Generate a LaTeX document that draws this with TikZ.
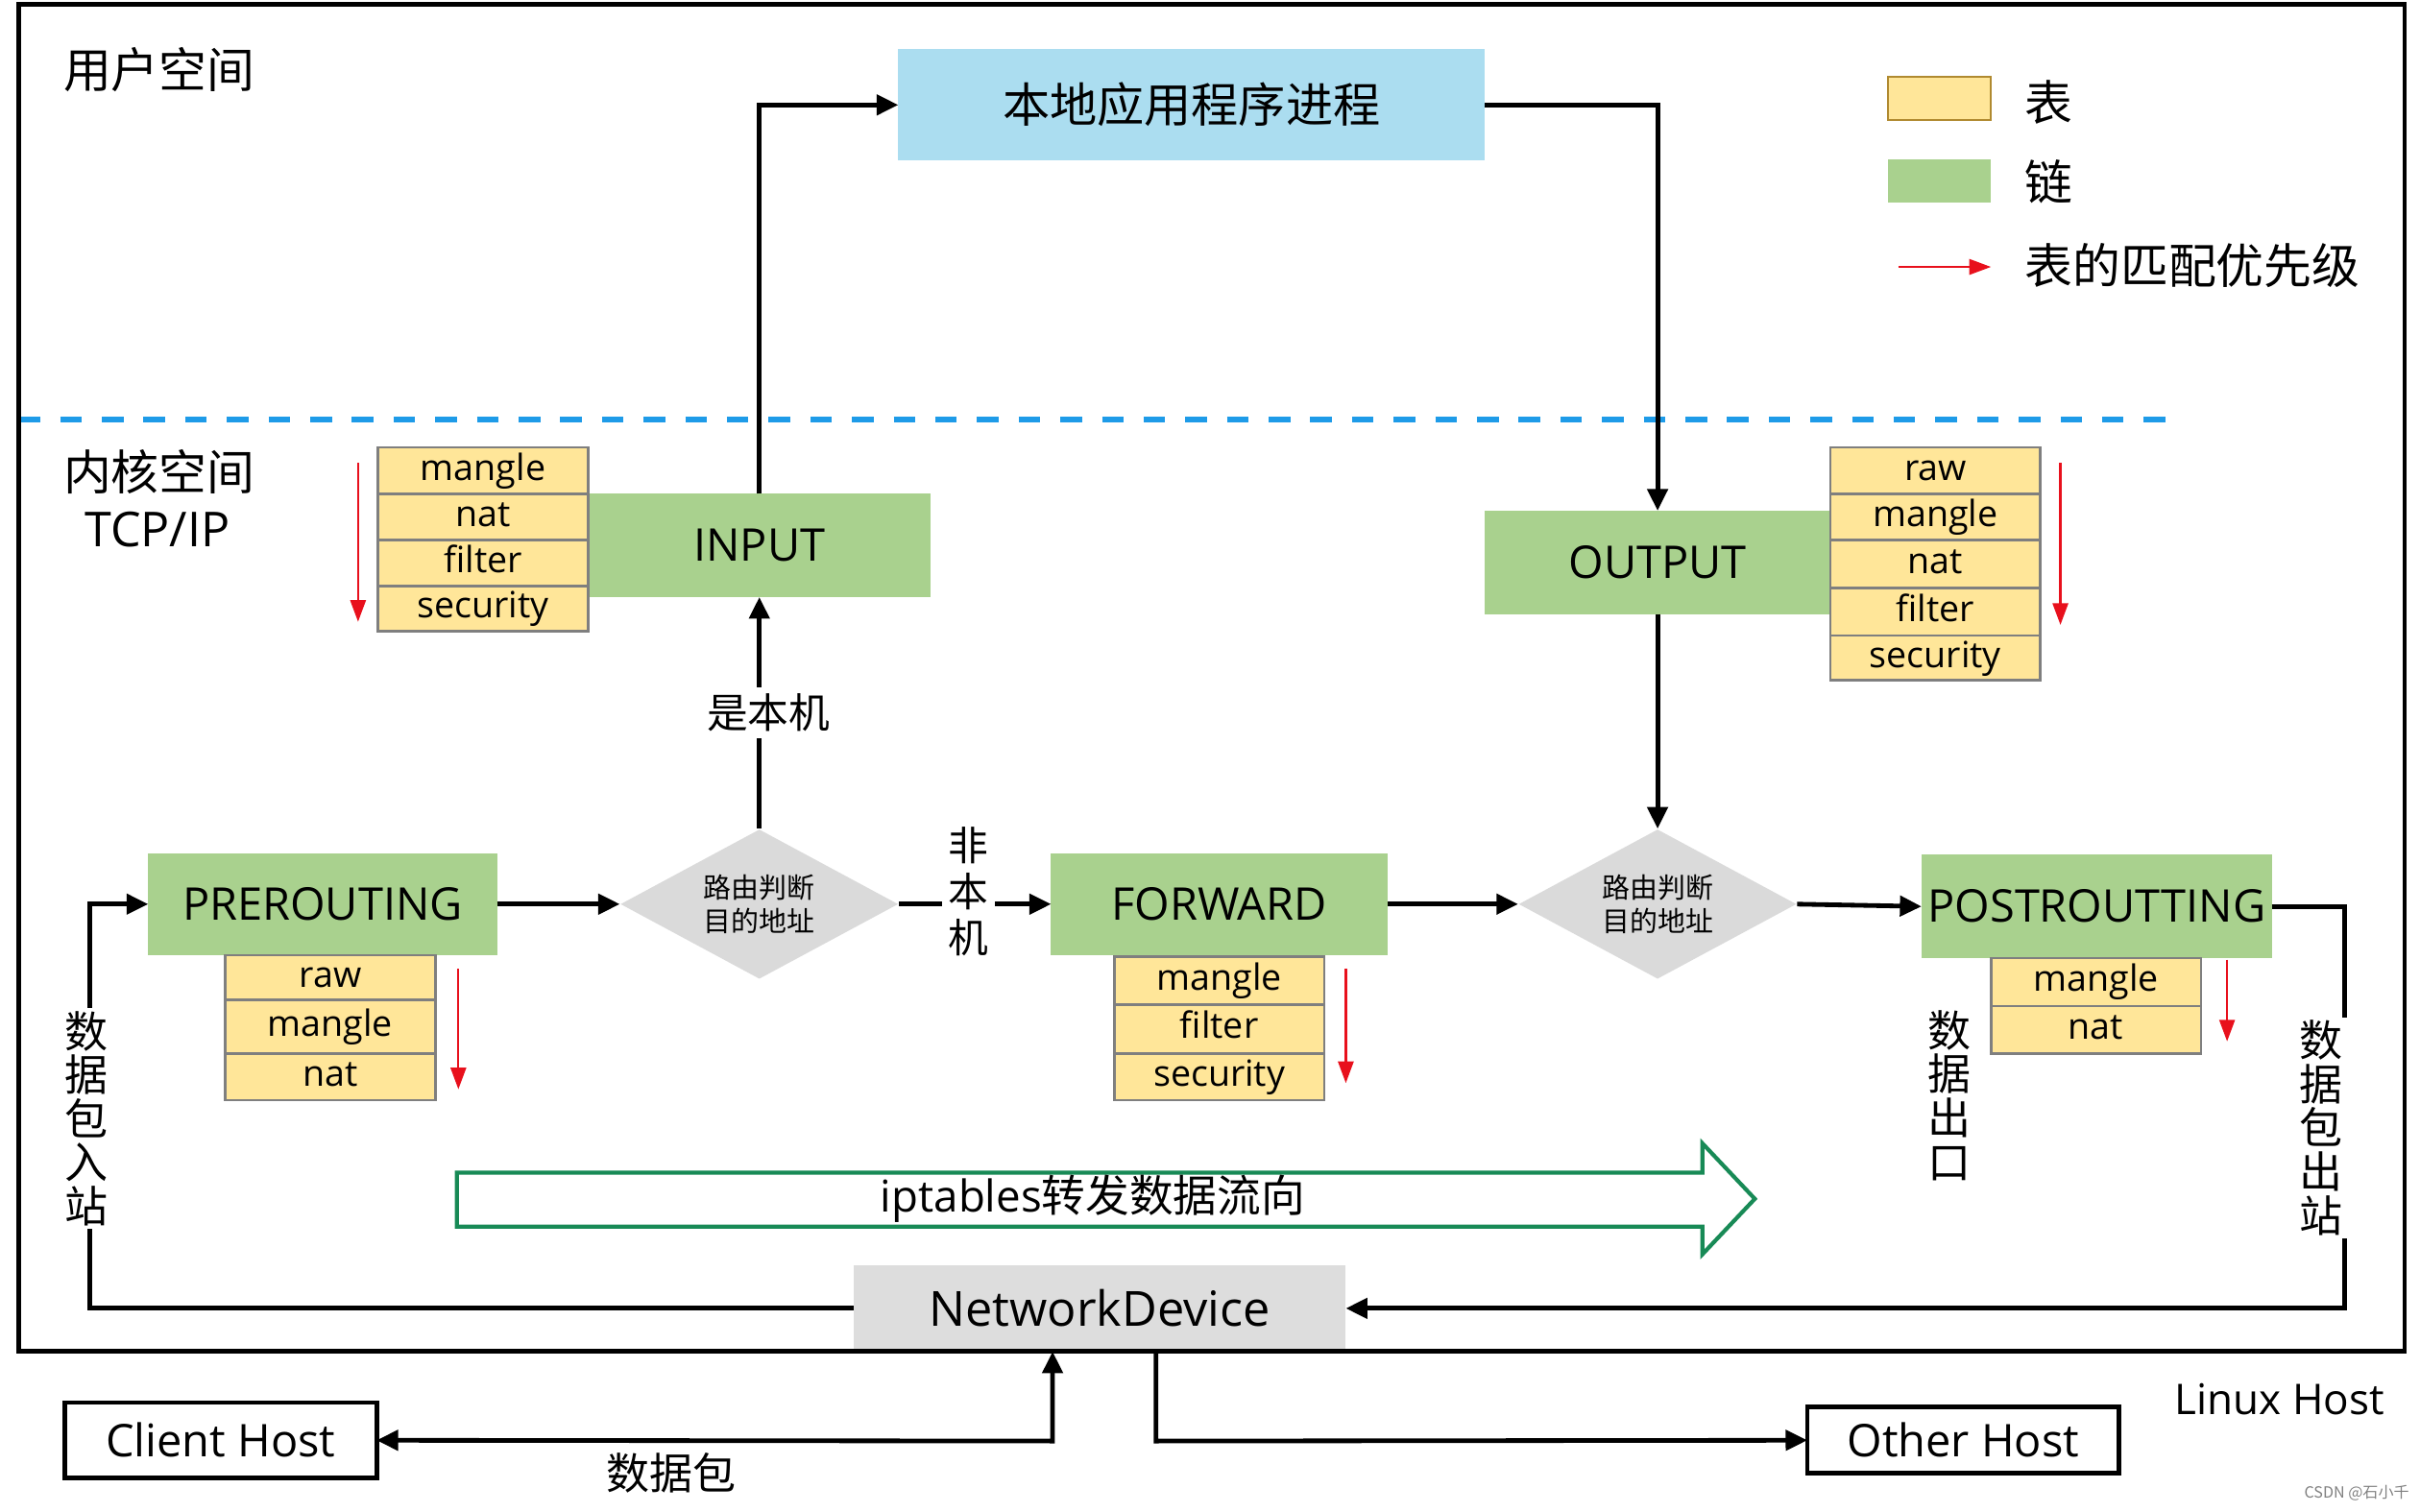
\documentclass[tikz,border=0pt]{standalone}
\usepackage{fontspec}
\setmainfont{Open Sans}
\newfontfamily\cjk{Noto Sans CJK SC}
\usetikzlibrary{fit,shapes.geometric,arrows.meta,calc}
\definecolor{chaing}{HTML}{A9D18E}
\definecolor{tblY}{HTML}{FFE699}
\definecolor{tblB}{HTML}{7F7F7F}
\definecolor{legB}{HTML}{B08A30}
\definecolor{procB}{HTML}{ABDDF0}
\definecolor{diaG}{HTML}{DADADA}
\definecolor{ndG}{HTML}{DDDDDD}
\definecolor{dashB}{HTML}{1E9BE8}
\definecolor{prioR}{HTML}{E8101C}
\definecolor{flowG}{HTML}{188A56}
\begin{document}
\begin{tikzpicture}[x=0.5pt,y=-0.5pt,
 box/.style={inner sep=0pt, outer sep=0pt},
 chainlbl/.style={font=\fontsize{14.6}{16}\selectfont, inner sep=0pt},
 chainbox/.style={box, fill=chaing, label={[chainlbl]center:#1}},
 tbllbl/.style={font=\fontsize{11.7}{13}\selectfont, inner sep=0pt, text height=8.4pt, text depth=2.2pt},
 tblcell/.style={box, fill=tblY, draw=tblB, line width=0.8pt, label={[tbllbl]center:#1}},
 arr/.style={line width=1.5pt, -{Triangle[length=7pt,width=6.5pt]}},
 prio/.style={draw=prioR, line width=0.7pt, -{Triangle[length=7pt,width=5pt,fill=prioR]}},
 decide/.style={diamond, fill=diaG, minimum width=90pt, minimum height=48.5pt, inner sep=0pt},
 dtext/.style={font=\cjk\fontsize{9}{11}\selectfont, align=center},
 vtext/.style={font=\cjk\fontsize{14}{14.2}\selectfont, align=center, fill=white, inner xsep=3pt, inner ysep=1pt},
 hostlbl/.style={font=\fontsize{14.6}{16}\selectfont, inner sep=0pt},
 hostbox/.style={box, draw, line width=1.5pt, label={[hostlbl]center:#1}},
 cjkbig/.style={font=\cjk\fontsize{15.5}{17}\selectfont},
]
\useasboundingbox (0,0) rectangle (1568,979.5);

% kernel / user separator
\draw[dashB, line width=1.7pt, dash pattern=on 7pt off 6.5pt] (12,272) -- (1405,272);

% texts
\node[anchor=west, cjkbig] (us) at (34,45) {用户空间};
\node[anchor=west, cjkbig] (ks) at (34,306) {内核空间};
\node[font=\fontsize{15.6}{17}\selectfont] (tcp) at (102,343) {TCP/IP};

% process
\node[box, fill=procB, fit={(582,32) (962,104)}, label={[font=\cjk\fontsize{15.3}{17}\selectfont]center:本地应用程序进程}] (proc) {};

% legend
\node[box, fill=tblY, draw=legB, line width=0.6pt, fit={(1223,50) (1290,78)}] (lgY) {};
\node[box, fill=chaing, fit={(1223,103) (1290,131)}] (lgG) {};
\coordinate (lr1) at (1230,173);
\coordinate (lr2) at (1290,173);
\draw[prio] (lr1) -- (lr2);
\node[anchor=west, cjkbig] (lt1) at (1305,66) {表};
\node[anchor=west, cjkbig] (lt2) at (1305,118) {链};
\node[anchor=west, cjkbig] (lt3) at (1305,172) {表的匹配优先级};

% chains
\node[chainbox=INPUT, fit={(381,320) (603,387)}] (input) {};
\node[chainbox=OUTPUT, fit={(962,331) (1186,398)}] (output) {};
\node[chainbox=PREROUTING, fit={(96,553) (322,619)}] (pre) {};
\node[chainbox=FORWARD, fit={(681,553) (899,619)}] (fwd) {};
\node[chainbox=POSTROUTTING, fit={(1245,554) (1472,621)}] (post) {};

% INPUT tables
\node[tblcell=mangle, fit={(245,290) (381,320)}] (i1) {};
\node[tblcell=nat, fit={(245,320) (381,350)}] (i2) {};
\node[tblcell=filter, fit={(245,350) (381,380)}] (i3) {};
\node[tblcell=security, fit={(245,380) (381,409)}] (i4) {};
% OUTPUT tables
\node[tblcell=raw, fit={(1186,290) (1322,320)}] (o1) {};
\node[tblcell=mangle, fit={(1186,320) (1322,350)}] (o2) {};
\node[tblcell=nat, fit={(1186,350) (1322,381)}] (o3) {};
\node[tblcell=filter, fit={(1186,381) (1322,412)}] (o4) {};
\node[tblcell=security, fit={(1186,412) (1322,441)}] (o5) {};
% PREROUTING tables
\node[tblcell=raw, fit={(146,619) (282,648)}] (p1) {};
\node[tblcell=mangle, fit={(146,648) (282,683)}] (p2) {};
\node[tblcell=nat, fit={(146,683) (282,713)}] (p3) {};
% FORWARD tables
\node[tblcell=mangle, fit={(722,620) (858,651)}] (f1) {};
\node[tblcell=filter, fit={(722,651) (858,683)}] (f2) {};
\node[tblcell=security, fit={(722,683) (858,713)}] (f3) {};
% POSTROUTTING tables
\node[tblcell=mangle, fit={(1290,621) (1426,652)}] (q1) {};
\node[tblcell=nat, fit={(1290,652) (1426,683)}] (q2) {};

% priority arrows
\coordinate (ra1) at (232,300); \coordinate (rb1) at (232,403);
\coordinate (ra2) at (1335,300); \coordinate (rb2) at (1335,405);
\coordinate (ra3) at (297,628); \coordinate (rb3) at (297,706);
\coordinate (ra4) at (872,628); \coordinate (rb4) at (872,702);
\coordinate (ra5) at (1443,622); \coordinate (rb5) at (1443,675);
\draw[prio] (ra1) -- (rb1);
\draw[prio] (ra2) -- (rb2);
\draw[prio] (ra3) -- (rb3);
\draw[prio] (ra4) -- (rb4);
\draw[prio] (ra5) -- (rb5);

% decisions
\node[decide, label={[dtext]center:路由判断\\目的地址}] (d1) at (492,586) {};
\node[decide, label={[dtext]center:路由判断\\目的地址}] (d2) at (1074,586) {};

% network device and hosts
\node[box, fill=ndG, fit={(553,820) (872,876)}, label={[font=\fontsize{15.7}{17}\selectfont, inner sep=0pt]center:NetworkDevice}] (nd) {};
\node[hostbox={Client Host}, fit={(42,909) (244,958)}] (client) {};
\node[hostbox={Other Host}, fit={(1171,912) (1373,955)}] (other) {};
\node[font=\fontsize{13.7}{15}\selectfont] (lh) at (1477,907) {Linux Host};

% iptables flow arrow
\draw[flowG, line width=1.3pt, fill=white] (296,760) -- (1103,760) -- (1103,741) -- (1137,777) -- (1103,813) -- (1103,795) -- (296,795) -- cycle;
\node[font=\fontsize{14.2}{16}\selectfont] (flow) at (708,777) {iptables{\cjk 转发数据流向}};

% connectors
\draw[arr] (input.north) |- (proc.west);
\draw[arr] (proc.east) -| (output.north);
\draw[arr] (output.south) -- (d2.north);
\draw[arr] (d1.north) -- node[fill=white, font=\cjk\fontsize{13.3}{15}\selectfont, inner sep=2pt, xshift=3pt] (lbl1) {是本机} (input.south);
\draw[arr] (pre.east) -- (d1.west);
\draw[arr] (d1.east) -- node[fill=white, font=\cjk\fontsize{13}{15}\selectfont, align=center, inner xsep=2pt, inner ysep=1pt, xshift=-2pt, yshift=4pt] (lbl2) {非\\本\\机} (fwd.west);
\draw[arr] (fwd.east) -- (d2.west);
\draw[arr] (d2.east) -- (post.west);

\coordinate (rr) at (1519,848);
\draw[arr] (post.east) -| (rr) -- (nd.east);
\node[vtext] (lbl3) at (1504,731) {数\\据\\包\\出\\站};

\coordinate (ll) at (58,848);
\draw[arr] (nd.west) -- (ll) |- (pre.west);
\node[vtext] (lbl4) at (56,725) {数\\据\\包\\入\\站};

\node[vtext] (lbl5) at (1263,710) {数\\据\\出\\口};

\coordinate (cb) at (682,934);
\draw[line width=1.5pt, {Triangle[length=7pt,width=6.5pt]}-{Triangle[length=7pt,width=6.5pt]}] (client.east) -- (cb) -- (cb |- nd.south);
\node[font=\cjk\fontsize{14}{15}\selectfont] (pkt) at (435,955) {数据包};

\coordinate (ob) at (749,934);
\draw[arr] (ob |- nd.south) -- (ob) -- (other.west);

% outer frame (Linux host)
\node[box, draw, line width=1.5pt, fit={(12,3) (1558,876)}] (host) {};

\node[font=\cjk\fontsize{5}{6}\selectfont, text=gray] (wm) at (1527,968) {CSDN @石小千};
\end{tikzpicture}
\end{document}
